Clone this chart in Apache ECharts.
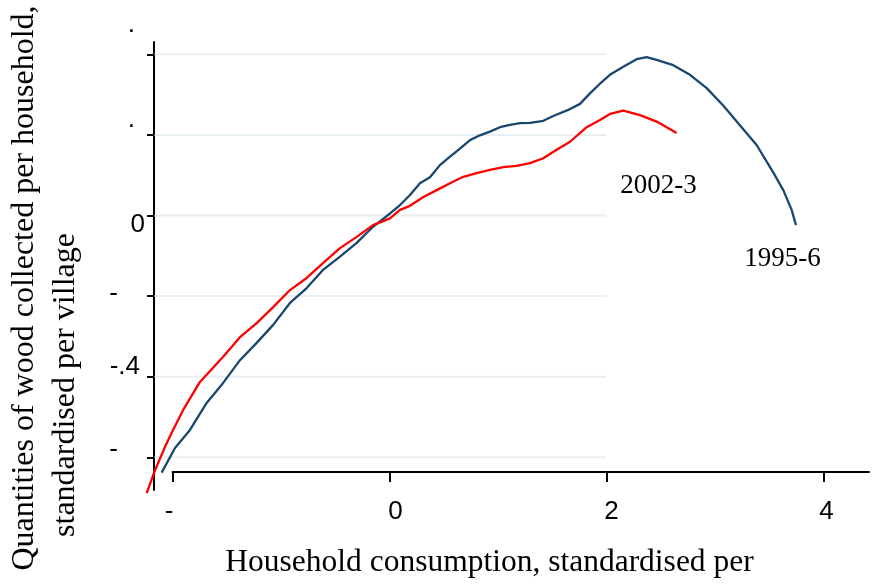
<!DOCTYPE html>
<html><head><meta charset="utf-8">
<script src="https://cdn.jsdelivr.net/npm/echarts@6/dist/echarts.min.js"></script>
<style>html,body{margin:0;padding:0;background:#fff}#c{width:877px;height:586px}</style>
</head><body><div id="c"></div>
<script>
// ---- data ----
const xTickValues = [-2, 0, 2, 4];
const xTickLabels = ['-', '0', '2', '4'];
const yTickValues = [0.4, 0.2, 0, -0.2, -0.4, -0.6];
const yTickLabels = ['.', '.', '0', '-', '-.4', '-'];
const seriesNames = ['1995-6', '2002-3'];

const blueX = [-2.100,-1.977,-1.839,-1.685,-1.535,-1.378,-1.224,-1.074,-0.917,-0.763,-0.613,-0.456,-0.302,-0.152,0.005,0.097,0.189,0.281,0.373,0.465,0.558,0.650,0.742,0.834,0.926,1.018,1.111,1.203,1.295,1.418,1.510,1.664,1.756,1.848,1.940,2.032,2.155,2.278,2.371,2.463,2.616,2.770,2.924,3.076,3.230,3.384,3.537,3.630,3.707,3.747];
const blueY = [-0.638,-0.577,-0.532,-0.465,-0.416,-0.359,-0.316,-0.272,-0.217,-0.180,-0.135,-0.102,-0.068,-0.028,0.005,0.026,0.051,0.080,0.095,0.125,0.146,0.166,0.187,0.199,0.208,0.219,0.225,0.229,0.230,0.235,0.247,0.264,0.277,0.303,0.327,0.349,0.369,0.388,0.393,0.386,0.373,0.349,0.316,0.273,0.224,0.175,0.107,0.063,0.014,-0.024];

const redX = [-2.238,-2.161,-2.069,-1.995,-1.903,-1.747,-1.535,-1.378,-1.224,-1.074,-0.917,-0.763,-0.613,-0.456,-0.302,-0.152,0.005,0.097,0.189,0.312,0.435,0.558,0.680,0.804,0.926,1.049,1.172,1.295,1.418,1.541,1.664,1.818,1.940,2.032,2.155,2.309,2.463,2.647];
const redY = [-0.689,-0.632,-0.574,-0.532,-0.483,-0.413,-0.351,-0.302,-0.267,-0.228,-0.185,-0.155,-0.118,-0.081,-0.053,-0.024,-0.007,0.014,0.024,0.046,0.063,0.080,0.096,0.105,0.113,0.120,0.123,0.130,0.142,0.163,0.183,0.219,0.237,0.252,0.260,0.249,0.233,0.205];

const gridLineStartX = -2.165;
const gridLineEndX = 2;

const xTitle = 'Household consumption, standardised per';
const yTitle1 = 'Quantities of wood collected per household,';
const yTitle2 = 'standardised per village';

// ---- build ----
const zip = (xs, ys) => xs.map((x, i) => [x, ys[i]]);
const idxOf = (arr, v) => arr.findIndex(a => Math.abs(a - v) < 1e-9);

const yRich = {
  y0: {padding: [0, 10, 58, 0]},
  y1: {padding: [0, 10, 30, 0]},
  y2: {padding: [18, 0, 0, 0]},
  y3: {padding: [0, 27, 5, 0]},
  y4: {padding: [0, 5, 20, 0]},
  y5: {padding: [0, 27, 15, 0]}
};
const xRich = {
  x0: {padding: [0, 7, 0, 0]},
  x1: {padding: [0, 0, 0, 12]},
  x2: {padding: [0, 0, 0, 10]},
  x3: {padding: [0, 0, 0, 6]}
};
const labelFont = {fontFamily: '"Liberation Sans", Arial, sans-serif', fontSize: 26, color: '#000', lineHeight: 26};
Object.values(yRich).forEach(s => Object.assign(s, labelFont));
Object.values(xRich).forEach(s => Object.assign(s, labelFont));

// Plot grid (index 0): wide enough to hold every data point, axes hidden.
// Axis grid (index 1): same scale, shows the axes as drawn in the reference.
const gridSeries = yTickValues.map(v => ({
  type: 'line', xAxisIndex: 0, yAxisIndex: 0,
  data: [[gridLineStartX, v], [gridLineEndX, v]],
  showSymbol: false, silent: true, z: 1,
  lineStyle: {color: '#e8eff2', width: 2}
}));

const serif = '"Liberation Serif", "Times New Roman", serif';

const option = {
  animation: false,
  backgroundColor: '#fff',
  grid: [
    {left: 140, right: 8, top: 42, bottom: 80},
    {left: 172.5, right: 8, top: 42, bottom: 96}
  ],
  xAxis: [
    {type: 'value', gridIndex: 0, min: -2.2995, max: 4.42, show: false},
    {
      type: 'value', gridIndex: 1, min: -2, max: 4.42, offset: -18,
      axisLine: {onZero: false, lineStyle: {color: '#000', width: 2}},
      axisTick: {customValues: xTickValues, length: 10, lineStyle: {color: '#000', width: 2}},
      axisLabel: {
        customValues: xTickValues, margin: 27,
        formatter: v => { const i = idxOf(xTickValues, v); return i < 0 ? '' : '{x' + i + '|' + xTickLabels[i] + '}'; },
        rich: xRich
      },
      splitLine: {show: false}
    }
  ],
  yAxis: [
    {type: 'value', gridIndex: 0, min: -0.7208, max: 0.4305, show: false},
    {
      type: 'value', gridIndex: 1, min: -0.681, max: 0.4305, offset: 18.5,
      axisLine: {show: true, onZero: false, lineStyle: {color: '#000', width: 2}},
      axisTick: {show: true, customValues: yTickValues, length: 7, lineStyle: {color: '#000', width: 2}},
      axisLabel: {
        customValues: yTickValues, margin: 9, align: 'right',
        formatter: v => { const i = idxOf(yTickValues, v); return i < 0 ? '' : '{y' + i + '|' + yTickLabels[i] + '}'; },
        rich: yRich
      },
      splitLine: {show: false}
    }
  ],
  series: gridSeries.concat([
    {name: seriesNames[0], type: 'line', xAxisIndex: 0, yAxisIndex: 0, data: zip(blueX, blueY), showSymbol: false, z: 3,
     lineStyle: {color: '#1a476f', width: 2.3}},
    {name: seriesNames[1], type: 'line', xAxisIndex: 0, yAxisIndex: 0, data: zip(redX, redY), showSymbol: false, z: 4,
     lineStyle: {color: '#ff0000', width: 2.3}}
  ]),
  graphic: [
    {type: 'text', x: 489.5, y: 563, style: {text: xTitle, font: '31.5px ' + serif, fill: '#000', align: 'center', verticalAlign: 'middle'}},
    {type: 'text', x: 25, y: 288, rotation: Math.PI / 2, style: {text: yTitle1, font: '32px ' + serif, fill: '#000', align: 'center', verticalAlign: 'middle'}},
    {type: 'text', x: 66, y: 385, rotation: Math.PI / 2, style: {text: yTitle2, font: '32px ' + serif, fill: '#000', align: 'center', verticalAlign: 'middle'}},
    {type: 'text', x: 658.4, y: 186, style: {text: seriesNames[1], font: '27px ' + serif, fill: '#000', align: 'center', verticalAlign: 'middle'}},
    {type: 'text', x: 782.4, y: 259, style: {text: seriesNames[0], font: '27px ' + serif, fill: '#000', align: 'center', verticalAlign: 'middle'}}
  ]
};
const chart = echarts.init(document.getElementById('c'), null, {renderer: 'canvas'});
chart.setOption(option);
</script></body></html>
